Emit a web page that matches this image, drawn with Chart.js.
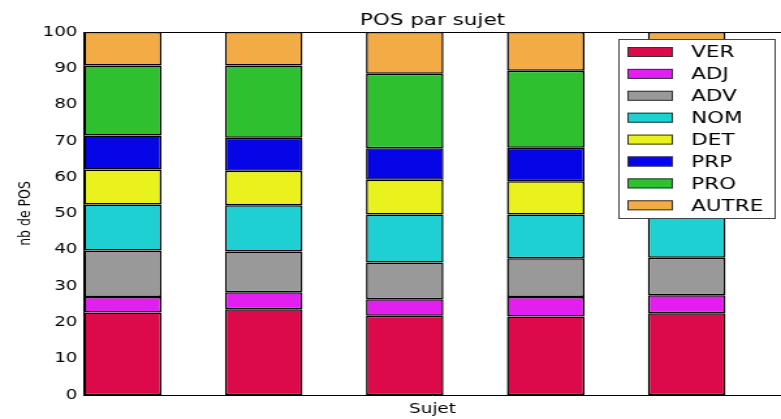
<!DOCTYPE html>
<html>
<head>
<meta charset="utf-8">
<script src="https://cdn.jsdelivr.net/npm/chart.js@4/dist/chart.umd.min.js"></script>
<style>
  html, body { margin: 0; padding: 0; background: #fff; }
</style>
</head>
<body>
<!-- drawn narrow, then stretched to the page width like the source image -->
<canvas id="chart" width="600" height="419" style="display:block;width:781px;height:419px"></canvas>
<script>
  // Data (percentages per subject)
  const sujets = ["Sujet 1", "Sujet 2", "Sujet 3", "Sujet 4", "Sujet 5"];
  const posLabels = ["VER", "ADJ", "ADV", "NOM", "DET", "PRP", "PRO", "AUTRE"];
  const posColors = ["#dc0a4b", "#e31ff0", "#999999", "#1fd0d2", "#eaf21e", "#0505e6", "#2ec02e", "#f2ab45"];
  const VER   = [22.7, 23.6, 21.8, 21.6, 22.5];
  const ADJ   = [4.3, 4.7, 4.6, 5.4, 5.0];
  const ADV   = [12.8, 11.2, 10.1, 10.7, 10.3];
  const NOM   = [12.7, 12.8, 13.2, 12.0, 13.2];
  const DET   = [9.6, 9.5, 9.6, 9.2, 9.4];
  const PRP   = [9.4, 9.1, 8.7, 9.2, 9.0];
  const PRO   = [19.3, 19.9, 20.5, 21.2, 20.4];
  const AUTRE = [9.2, 9.2, 11.5, 10.7, 10.2];
  const yTicks = [0, 10, 20, 30, 40, 50, 60, 70, 80, 90, 100];

  const series = [VER, ADJ, ADV, NOM, DET, PRP, PRO, AUTRE];

  const datasets = series.map((vals, k) => ({
    label: posLabels[k],
    xAxisID: "x",
    data: vals.map((v, i) => ({ x: i, y: v })),
    backgroundColor: posColors[k],
    borderColor: "#000",
    borderWidth: 1.5,
    borderSkipped: false,
    categoryPercentage: 1,
    barPercentage: 0.55
  }));

  // matplotlib-style boxed legend inside the plot
  const boxLegend = {
    id: "boxLegend",
    afterDraw(chart) {
      const ctx = chart.ctx;
      const left = 475, top = 39, right = 596, bottom = 219;
      ctx.save();
      ctx.fillStyle = "#fff";
      ctx.fillRect(left, top, right - left, bottom - top);
      ctx.strokeStyle = "#444";
      ctx.lineWidth = 1;
      ctx.strokeRect(left + 0.5, top + 0.5, right - left - 1, bottom - top - 1);
      ctx.font = "16.5px 'DejaVu Sans'";
      ctx.textBaseline = "middle";
      chart.data.datasets.forEach((ds, i) => {
        const cy = 52 + i * 21.9;
        ctx.fillStyle = ds.backgroundColor;
        ctx.fillRect(482, cy - 5, 35, 10);
        ctx.strokeStyle = "#333";
        ctx.strokeRect(482.5, cy - 4.5, 34, 9);
        ctx.fillStyle = "#000";
        ctx.fillText(ds.label, 531, cy + 1);
      });
      ctx.restore();
    }
  };

  new Chart(document.querySelector("#chart"), {
    type: "bar",
    data: { datasets },
    plugins: [boxLegend],
    options: {
      responsive: false,
      devicePixelRatio: 1,
      animation: false,
      layout: { padding: 0 },
      plugins: { legend: { display: false }, tooltip: { enabled: false } },
      scales: {
        x: {
          type: "linear",
          position: "bottom",
          stacked: true,
          min: -0.275,
          max: 4.669,
          offset: false,
          grid: { display: false },
          border: { display: true, color: "#000", width: 1 },
          // one tick per subject, so bar width follows subject spacing
          afterBuildTicks: (s) => { s.ticks = sujets.map((_, i) => ({ value: i })); },
          ticks: { display: false },
          title: {
            display: true, text: "Sujet", color: "#000",
            font: { family: "DejaVu Sans", size: 14 },
            padding: { top: 0, bottom: 1 }
          },
          afterFit: (s) => { s.height = 24; }
        },
        top: {
          type: "linear",
          position: "top",
          axis: "x",
          grid: { display: false },
          border: { display: true, color: "#000", width: 1 },
          ticks: { display: false },
          title: {
            display: true, text: "POS par sujet", color: "#000",
            font: { family: "DejaVu Sans", size: 16.5 },
            padding: { top: 11, bottom: 0 }
          },
          afterFit: (s) => { s.height = 32; }
        },
        y: {
          stacked: true,
          min: 0,
          max: 100,
          grid: { display: false, drawTicks: false },
          border: { display: true, color: "#000", width: 1 },
          afterBuildTicks: (s) => { s.ticks = yTicks.map(v => ({ value: v })); },
          ticks: {
            color: "#000",
            padding: 5,
            font: { family: "DejaVu Sans", size: 14 }
          },
          title: {
            display: true, text: "nb de POS", color: "#000",
            font: { family: "DejaVu Sans", size: 12.5 },
            padding: { top: 12, bottom: 0 }
          },
          afterFit: (s) => { s.width = 64.5; }
        }
      }
    }
  });
</script>
</body>
</html>
